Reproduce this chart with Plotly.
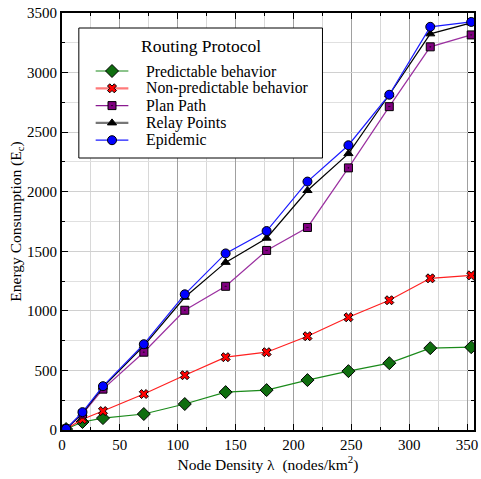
import plotly.graph_objects as go

# Node density (nodes/km^2)
density = [3.54, 17.7, 35.4, 70.7, 106.1, 141.4, 176.8, 212.1, 247.5, 282.8, 318.2, 353.6]

# Energy consumption per routing protocol
predictable = [8, 67, 100, 134, 218, 318, 335, 419, 494, 561, 687, 695]
non_predictable = [8, 90, 159, 302, 460, 611, 653, 787, 946, 1089, 1273, 1298]
plan_path = [8, 134, 343, 653, 1005, 1206, 1507, 1700, 2200, 2714, 3216, 3316]
relay_points = [10, 140, 360, 707, 1114, 1407, 1610, 2010, 2320, 2814, 3325, 3417]
epidemic = [10, 150, 368, 720, 1139, 1482, 1670, 2085, 2390, 2814, 3384, 3425]

legend_title = "Routing Protocol"

# name, values, line colour, marker symbol, marker colour, marker size, legend line colour, legend line width
series = [
    ("Predictable behavior", predictable, "#1a8a1a", "diamond", "#0f6e0f", 10, "#1a8a1a", 1.2),
    ("Non-predictable behavior", non_predictable, "#ff2020", "x", "#ff0000", 8, "#ff7a7a", 2.2),
    ("Plan Path", plan_path, "#9b30a0", "square-dot", "#800080", 8, "#8a1a90", 1.2),
    ("Relay Points", relay_points, "#000000", "triangle-up", "#000000", 8, "#777777", 2.2),
    ("Epidemic", epidemic, "#1a1aff", "circle", "#0000ff", 9, "#1a1aff", 1.2),
]

FONT = "Liberation Serif"
W, H = 481, 479
L, R, T, B = 62, 3, 13, 49

fig = go.Figure()
for name, vals, lcol, sym, mcol, size, _, _ in series:
    fig.add_trace(go.Scatter(
        x=density, y=vals, name=name, mode="lines+markers",
        line=dict(color=lcol, width=1.2),
        marker=dict(symbol=sym, size=size, color=mcol,
                    line=dict(color="#000000", width=1)),
        showlegend=False,
    ))

# Legend panel drawn on a pixel-scaled overlay axis pair
box_l, box_r, box_t, box_b = 79, 325, 28, 158
fig.add_trace(go.Scatter(
    x=[box_l, box_r, box_r, box_l, box_l], y=[box_t, box_t, box_b, box_b, box_t],
    xaxis="x2", yaxis="y2", mode="lines", fill="toself", fillcolor="white",
    line=dict(color="black", width=1), hoverinfo="skip", showlegend=False,
))
row_y0, row_dy = 71, 17.3
seg_l, seg_r, text_x = 96, 129, 145
for i, (name, _, _, sym, mcol, size, llc, llw) in enumerate(series):
    ry = row_y0 + i * row_dy
    fig.add_trace(go.Scatter(
        x=[seg_l, seg_r], y=[ry, ry], xaxis="x2", yaxis="y2", mode="lines",
        line=dict(color=llc, width=llw), hoverinfo="skip", showlegend=False,
    ))
    fig.add_trace(go.Scatter(
        x=[(seg_l + seg_r) / 2], y=[ry], xaxis="x2", yaxis="y2", mode="markers",
        marker=dict(symbol=sym, size=size, color=mcol, line=dict(color="black", width=1)),
        hoverinfo="skip", showlegend=False,
    ))
    fig.add_annotation(
        x=text_x, y=ry, xref="x2", yref="y2", text=name, showarrow=False,
        xanchor="left", yanchor="middle", font=dict(family=FONT, size=15.8, color="black"),
    )
fig.add_annotation(
    x=(box_l + box_r) / 2 + 0, y=46, xref="x2", yref="y2", text=legend_title, showarrow=False,
    xanchor="center", yanchor="middle", font=dict(family=FONT, size=17.5, color="black"),
)

fig.update_layout(
    width=W, height=H,
    margin=dict(l=L, r=R, t=T, b=B),
    paper_bgcolor="white", plot_bgcolor="white",
    font=dict(family=FONT, size=15, color="black"),
    showlegend=False,
    xaxis=dict(
        range=[0, 356], dtick=50, tick0=0,
        showline=True, linecolor="black", linewidth=2, mirror="ticks",
        ticks="inside", ticklen=6, tickcolor="black",
        showgrid=True, gridcolor="#a0a0a0", gridwidth=1,
        minor=dict(dtick=25, showgrid=True, gridcolor="#d8d8d8", ticks="inside", ticklen=3, tickcolor="black"),
        zeroline=False,
        title=dict(text="Node Density \u03bb  (nodes/km<sup>2</sup>)", standoff=4,
                   font=dict(size=15.5, family=FONT)),
        tickfont=dict(size=15, family=FONT),
    ),
    yaxis=dict(
        range=[0, 3500], dtick=500, tick0=0,
        showline=True, linecolor="black", linewidth=2, mirror="ticks",
        ticks="inside", ticklen=6, tickcolor="black",
        showgrid=True, gridcolor="#d0d0d0", gridwidth=1,
        minor=dict(dtick=250, showgrid=True, gridcolor="#e0e0e0", ticks="inside", ticklen=3, tickcolor="black"),
        zeroline=False,
        title=dict(text="Energy Consumption (E<sub>c</sub>)", standoff=2,
                   font=dict(size=15.5, family=FONT)),
        tickfont=dict(size=15, family=FONT),
    ),
    xaxis2=dict(overlaying="x", range=[L, W - R], visible=False, fixedrange=True),
    yaxis2=dict(overlaying="y", range=[H - B, T], visible=False, fixedrange=True),
)

fig.write_html("out.html")
